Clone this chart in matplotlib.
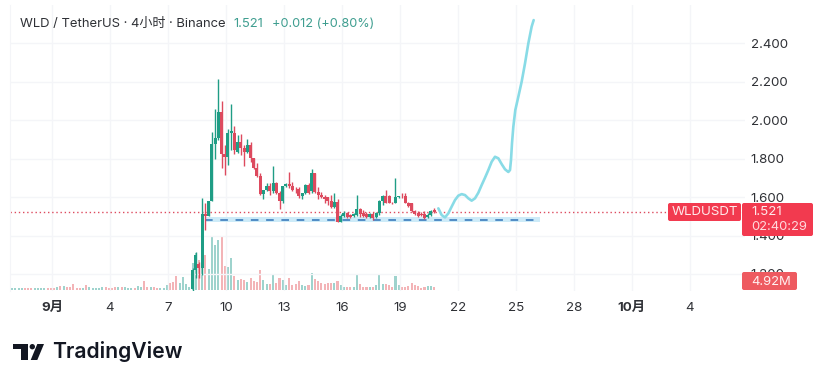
import matplotlib
matplotlib.use("Agg")
import matplotlib.pyplot as plt
import numpy as np
from matplotlib.patches import FancyBboxPatch, Polygon, Rectangle, Circle
from matplotlib.transforms import Affine2D

plt.rcParams['font.family'] = ['Inter', 'Noto Sans CJK SC', 'DejaVu Sans']

W, H = 825, 382

# Visible 4h candles, oldest first
opens = [1.12,1.22,1.25,1.23,1.513,1.502,1.577,1.876,1.905,2.044,1.822,1.807,1.931,1.931,1.836,1.888,1.857,1.836,1.871,1.802,1.753,1.71,1.615,1.634,1.658,1.629,1.672,1.62,1.577,1.655,1.668,1.655,1.637,1.641,1.603,1.62,1.663,
         1.63,1.723,1.628,1.611,1.602,1.598,1.581,1.55,1.576,1.472,1.502,1.515,1.507,1.502,1.507,1.536,1.515,1.512,1.498,1.512,1.495,1.515,1.581,1.605,1.605,1.571,1.571,1.598,1.602,1.605,1.571,1.567,1.529,1.515,1.512,1.512,1.495,1.507,1.533]
highs = [1.23,1.315,1.26,1.595,1.568,1.58,1.94,2.056,2.213,2.099,1.871,1.952,2.083,1.969,1.923,1.928,1.871,1.90,1.888,1.802,1.776,1.724,1.637,1.672,1.672,1.763,1.68,1.629,1.658,1.672,1.732,1.68,1.651,1.651,1.623,1.668,1.672,
         1.745,1.726,1.654,1.628,1.611,1.602,1.611,1.619,1.588,1.512,1.527,1.524,1.512,1.517,1.611,1.541,1.533,1.524,1.515,1.524,1.52,1.585,1.611,1.636,1.611,1.576,1.70,1.607,1.619,1.623,1.576,1.571,1.533,1.529,1.52,1.529,1.515,1.533,1.541]
lows = [1.11,1.18,1.18,1.195,1.43,1.50,1.577,1.796,1.897,1.75,1.715,1.767,1.845,1.824,1.827,1.819,1.762,1.831,1.784,1.744,1.703,1.611,1.589,1.629,1.611,1.62,1.616,1.537,1.568,1.651,1.646,1.629,1.623,1.594,1.589,1.616,1.616,
        1.623,1.619,1.588,1.593,1.567,1.559,1.541,1.541,1.472,1.47,1.498,1.49,1.493,1.498,1.502,1.498,1.495,1.49,1.49,1.481,1.49,1.507,1.559,1.567,1.567,1.564,1.567,1.595,1.593,1.567,1.55,1.524,1.507,1.495,1.50,1.484,1.49,1.502,1.516]
closes = [1.22,1.30,1.23,1.51,1.499,1.577,1.876,1.905,2.044,1.822,1.807,1.931,1.945,1.845,1.888,1.857,1.836,1.871,1.802,1.75,1.71,1.615,1.634,1.658,1.629,1.672,1.62,1.577,1.655,1.668,1.655,1.634,1.634,1.603,1.62,1.663,1.623,
          1.723,1.628,1.611,1.598,1.588,1.581,1.55,1.576,1.472,1.502,1.519,1.495,1.498,1.512,1.536,1.512,1.502,1.498,1.512,1.49,1.515,1.581,1.605,1.571,1.571,1.567,1.598,1.605,1.598,1.571,1.553,1.529,1.512,1.502,1.507,1.49,1.507,1.529,1.521]

# Volume in millions, oldest first, and direction of the bars before the candles start
early_volume = [3.3,2.7,2.7,2.7,3.3,2.7,2.7,2.7,2.7,2.7,2.7,2.7,2.7,2.7,5.5,6,6.6,5.5,4.92,9.9,3.9,3.3,3.3,7.7,4.4,3.3,3.3,3.9,4.4,5.5,3.9,3.3,4.4,4.92,5.5,4.4,2.7,2.7,2.7,7.2,4.92,14,4.92,5.5,5.5,3.9,3.3,3.9,8.2,11,13,23,11,21,9.3,4.4]
early_dirs = "ggggrrrggggrrrgrgrrrrrgrgggggrrrrgrgggrggrrgrrgggrrrggggrr"[:56]
late_volume = [44,60,49,93,57.5,34,86.5,73,82,86.5,39.5,37,52,23,16.5,18,16.5,13.7,19,15.4,13.7,33,16.5,9.9,9.9,26.3,
               11,20,16.5,8.2,19,8.2,9.9,15,8.2,7.2,8.2,28.5,17.5,15.4,11,9.9,11,11,12,14,8.2,4.4,4.4,4.4,5.5,24.6,9.9,5.5,5.5,5.5,5.5,8.2,25.8,9.3,9.3,8.2,5.5,23.6,8.2,5.5,5.5,6.6,11,8.2,6.6,3.3,4.4,6.6,6.6,4.92]

# Hand-drawn forecast line (days after 1 Sep, price)
path_days = [19.986,20.159,20.331,20.503,20.676,20.848,21.021,21.193,21.366,21.538,21.71,21.883,22.055,22.228,22.4,22.573,22.745,22.918,23.09,23.262,23.435,23.607,23.694,23.745,23.797,23.866,23.969,24.125,24.297,24.47,24.642,24.814,24.918]
path_price = [1.541,1.506,1.494,1.515,1.55,1.584,1.607,1.615,1.61,1.593,1.581,1.593,1.622,1.662,1.70,1.74,1.783,1.809,1.801,1.771,1.744,1.73,1.74,1.792,1.879,1.965,2.052,2.121,2.199,2.294,2.398,2.485,2.519]

zone_days = [7.9, 25.25]
zone_prices = [1.470, 1.496]
zone_mid = 1.483
last_price = 1.521
last_candle_day = 19.77

x_tick_days = [0, 3, 6, 9, 12, 15, 18, 21, 24, 27, 30, 33]
x_tick_labels = ['9月', '4', '7', '10', '13', '16', '19', '22', '25', '28', '10月', '4']
y_ticks = [1.2, 1.4, 1.6, 1.8, 2.0, 2.2, 2.4]

UP, DOWN = '#1f9d85', '#dd4a5e'
UP_V, DOWN_V = '#9ed3cd', '#f3b4b7'
GRID = '#f4f5f8'
INK = '#2f3136'
LABEL = '#f23a4f'

fig = plt.figure(figsize=(W / 100, H / 100), dpi=100, facecolor='white')
px = Affine2D().scale(1, -1).translate(0, H)

L, R, T, B = 10, 745, 5, 291
rect = [L / W, 1 - B / H, (R - L) / W, (B - T) / H]
xlim = ((L - 52) / 19.33, (R - 52) / 19.33)
per_px = 0.2 / 38.5

vol_ax = fig.add_axes(rect)
vol_ax.set_xlim(xlim)
vol_ax.set_ylim(-1.64, (B - T - 1) * 1.64)
vol_ax.axis('off')

ax = fig.add_axes(rect)
ax.patch.set_alpha(0)
ax.set_xlim(xlim)
ax.set_ylim(2.4 - (B - 43) * per_px, 2.4 - (T - 43) * per_px)

n = len(opens)
volumes = np.array(early_volume + late_volume)
N = len(volumes)
days = last_candle_day - (N - 1 - np.arange(N)) / 6
o, h, l, c = map(np.array, (opens, highs, lows, closes))
up = c >= o
cand_days = days[-n:]

early_cols = [UP_V if d == 'g' else DOWN_V for d in early_dirs]
late_cols = [UP_V if u else DOWN_V for u in up]
vol_ax.bar(days, volumes, width=0.105, color=early_cols + late_cols, linewidth=0)

for s in ('top', 'right', 'bottom'):
    ax.spines[s].set_visible(False)
ax.spines['left'].set_color(GRID)
ax.grid(True, color=GRID, linewidth=1)
ax.set_axisbelow(True)
ax.yaxis.tick_right()
ax.set_yticks(y_ticks, [f'{v:.3f}' for v in y_ticks])
ax.set_xticks(x_tick_days, x_tick_labels)
ax.tick_params(axis='both', length=0, labelsize=9.6, labelcolor=INK)
ax.tick_params(axis='y', pad=4)
ax.tick_params(axis='x', pad=8)
ax.get_xticklabels()[0].set_fontweight('bold')
ax.get_xticklabels()[10].set_fontweight('bold')

ax.axhline(last_price, color='#dd4a5e', linewidth=1, linestyle=(0, (1, 2)), zorder=2)
ax.add_patch(Rectangle((zone_days[0], zone_prices[0]), zone_days[1] - zone_days[0],
                       zone_prices[1] - zone_prices[0], facecolor='#cdebf8', edgecolor='none', zorder=2))
ax.plot(zone_days, [zone_mid, zone_mid], color='#2f72b8', linewidth=1.1, linestyle=(0, (5, 5)), zorder=2.5)

colors = [UP if u else DOWN for u in up]
ax.vlines(cand_days, l, h, colors=colors, linewidth=1.0, zorder=3)
ax.bar(cand_days, np.maximum(np.abs(c - o), 0.004), bottom=np.minimum(o, c), width=0.155,
       color=colors, linewidth=0, zorder=3.2)
ax.plot(path_days, path_price, color='#88dbe6', linewidth=1.9, solid_capstyle='round',
        solid_joinstyle='round', zorder=4)

def pill(x0, y0, x1, y1, color, r=2):
    fig.add_artist(FancyBboxPatch((x0 + r, y0 + r), x1 - x0 - 2 * r, y1 - y0 - 2 * r,
                                  boxstyle=f'round,pad={r},rounding_size={r}', transform=px,
                                  facecolor=color, edgecolor='none', zorder=5))

def label(x, y, s, **kw):
    kw.setdefault('va', 'center')
    kw.setdefault('zorder', 6)
    fig.text(x, y, s, transform=px, **kw)

pill(668, 203, 741, 221, LABEL)
pill(742, 203, 813, 236, LABEL)
pill(742, 272, 797, 290, '#ee5a60')
label(672, 212, 'WLDUSDT', color='#ffe9ea', fontsize=9.6)
label(751, 212, '1.521', color='#ffe9ea', fontsize=9.6)
label(751, 227, '02:40:29', color='#ffd9dc', fontsize=9.4)
label(751, 282, '4.92M', color='#fff0f0', fontsize=9.4)

label(20, 24, 'WLD / TetherUS · 4小时 · Binance', color=INK, fontsize=9.4)
label(233, 24, '1.521', color='#3f9e90', fontsize=9.4)
label(272, 24, '+0.012 (+0.80%)', color='#3f9e90', fontsize=9.2)

# TradingView wordmark
for pts in ([(13.3, 344), (28.3, 344), (28.3, 360), (20.7, 360), (20.7, 349.3), (13.3, 349.3)],
            [(37.3, 344), (44, 344), (37.3, 360), (30.7, 360)]):
    fig.add_artist(Polygon(pts, closed=True, transform=px, facecolor='#131722', edgecolor='none'))
fig.add_artist(Circle((32.3, 346.7), 2.7, transform=px, facecolor='#131722', edgecolor='none'))
label(52, 352, 'TradingView', color='#131722', fontsize=15.2, fontweight='semibold')

fig.savefig('out.png', dpi=100)
